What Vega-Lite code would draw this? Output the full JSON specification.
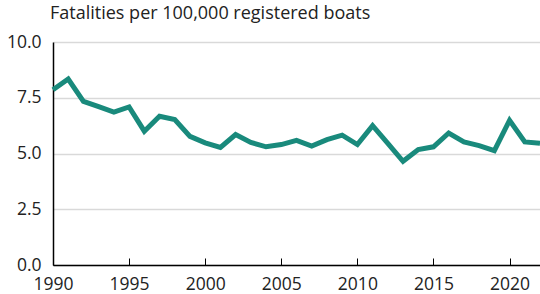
{
  "$schema": "https://vega.github.io/schema/vega-lite/v6.json",
  "autosize": "none",
  "width": 487,
  "height": 223,
  "padding": {"left": 53, "top": 42, "right": 0, "bottom": 29},
  "background": "white",
  "title": {
    "text": "Fatalities per 100,000 registered boats",
    "anchor": "start",
    "frame": "group",
    "orient": "top",
    "offset": 10,
    "dx": -3,
    "font": "Open Sans",
    "fontSize": 18,
    "fontWeight": "normal",
    "color": "#222222"
  },
  "config": {
    "view": {"stroke": null},
    "font": "Open Sans"
  },
  "data": {
    "values": [
      {"year": 1990, "rate": 7.86},
      {"year": 1991, "rate": 8.34},
      {"year": 1992, "rate": 7.34},
      {"year": 1993, "rate": 7.1},
      {"year": 1994, "rate": 6.86},
      {"year": 1995, "rate": 7.09},
      {"year": 1996, "rate": 6.0},
      {"year": 1997, "rate": 6.67},
      {"year": 1998, "rate": 6.52},
      {"year": 1999, "rate": 5.77},
      {"year": 2000, "rate": 5.48},
      {"year": 2001, "rate": 5.27},
      {"year": 2002, "rate": 5.85},
      {"year": 2003, "rate": 5.5},
      {"year": 2004, "rate": 5.3},
      {"year": 2005, "rate": 5.4},
      {"year": 2006, "rate": 5.59},
      {"year": 2007, "rate": 5.33},
      {"year": 2008, "rate": 5.62},
      {"year": 2009, "rate": 5.82},
      {"year": 2010, "rate": 5.4},
      {"year": 2011, "rate": 6.25},
      {"year": 2012, "rate": 5.45},
      {"year": 2013, "rate": 4.65},
      {"year": 2014, "rate": 5.18},
      {"year": 2015, "rate": 5.3},
      {"year": 2016, "rate": 5.92},
      {"year": 2017, "rate": 5.52},
      {"year": 2018, "rate": 5.35},
      {"year": 2019, "rate": 5.13},
      {"year": 2020, "rate": 6.49},
      {"year": 2021, "rate": 5.52},
      {"year": 2022, "rate": 5.46}
    ]
  },
  "mark": {"type": "line", "color": "#198a7c", "strokeWidth": 5, "strokeJoin": "miter", "clip": false},
  "encoding": {
    "x": {
      "field": "year",
      "type": "quantitative",
      "scale": {"domain": [1990, 2022], "nice": false, "zero": false},
      "axis": {
        "title": null,
        "values": [1990, 1995, 2000, 2005, 2010, 2015, 2020],
        "format": "d",
        "grid": false,
        "domainColor": "#000000",
        "domainWidth": 1.5,
        "tickColor": "#000000",
        "tickWidth": 1,
        "tickSize": -7,
        "labelPadding": 17,
        "labelFont": "Open Sans",
        "labelFontSize": 17.5,
        "labelColor": "#222222",
        "labelFlush": false,
        "labelOverlap": false
      }
    },
    "y": {
      "field": "rate",
      "type": "quantitative",
      "scale": {"domain": [0, 10], "nice": false},
      "axis": {
        "title": null,
        "values": [0, 2.5, 5, 7.5, 10],
        "format": ".1f",
        "grid": true,
        "gridColor": "#d9d9d9",
        "gridWidth": 1.5,
        "domainColor": "#000000",
        "domainWidth": 1.5,
        "ticks": false,
        "labelPadding": 12,
        "labelFont": "Open Sans",
        "labelFontSize": 17.5,
        "labelColor": "#222222"
      }
    }
  }
}
